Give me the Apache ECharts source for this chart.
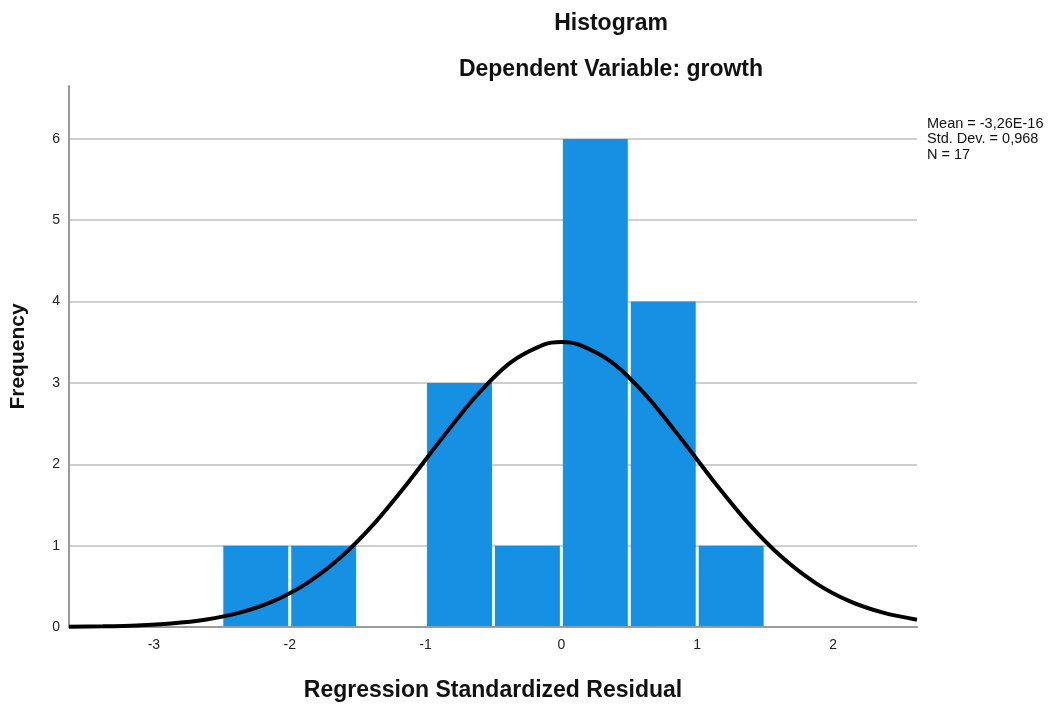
<!DOCTYPE html>
<html>
<head>
<meta charset="utf-8">
<script src="https://cdn.jsdelivr.net/npm/echarts@6/dist/echarts.min.js"></script>
<style>
  html, body { margin: 0; padding: 0; background: #fff; }
  #chart { width: 1055px; height: 707px; }
</style>
</head>
<body>
<div id="chart"></div>
<script>
// histogram bins (width 0.5)
const binStart = [-2.5, -2.0, -1.5, -1.0, -0.5, 0.0, 0.5, 1.0];
const binEnd = [-2.0, -1.5, -1.0, -0.5, 0.0, 0.5, 1.0, 1.5];
const counts = [1, 1, 0, 3, 1, 6, 4, 1];

// normal curve
const curveX = [-3.625, -3.375, -3.125, -2.875, -2.625, -2.375, -2.125, -1.875, -1.625, -1.375, -1.125,
  -0.875, -0.625, -0.375, -0.125, 0, 0.125, 0.375, 0.625, 0.875, 1.125, 1.375, 1.625, 1.875, 2.125,
  2.375, 2.618];
const curveY = [0.003, 0.008, 0.019, 0.043, 0.089, 0.173, 0.315, 0.537, 0.856, 1.277, 1.783,
  2.328, 2.844, 3.25, 3.474, 3.503, 3.474, 3.25, 2.844, 2.328, 1.783, 1.277, 0.856, 0.537, 0.315,
  0.173, 0.09];

const xTicks = [-3, -2, -1, 0, 1, 2];
const statsLines = ["Mean = -3,26E-16", "Std. Dev. = 0,968", "N = 17"];

const chart = echarts.init(document.getElementById("chart"));

const font = "Liberation Sans, Arial, sans-serif";

const option = {
  animation: false,
  title: [
    {
      text: "Histogram",
      left: 606,
      top: 7,
      textAlign: "center",
      textStyle: { fontFamily: font, fontSize: 23, fontWeight: "bold", color: "#111" },
    },
    {
      text: "Dependent Variable: growth",
      left: 606,
      top: 53,
      textAlign: "center",
      textStyle: { fontFamily: font, fontSize: 23, fontWeight: "bold", color: "#111" },
    },
  ],
  graphic: [
    {
      type: "text",
      left: 927,
      top: 116,
      style: {
        text: statsLines.join("\n"),
        fontFamily: font,
        fontSize: 14.5,
        lineHeight: 15.5,
        fill: "#111",
      },
    },
  ],
  grid: {
    left: 68,
    right: 138,
    top: 86,
    bottom: 77,
  },
  xAxis: {
    type: "value",
    min: -3.625,
    max: 2.618,
    z: 5,
    name: "Regression Standardized Residual",
    nameLocation: "middle",
    nameGap: 52,
    nameTextStyle: { fontFamily: font, fontSize: 23, fontWeight: "bold", color: "#111" },
    axisLine: { show: true, onZero: false, lineStyle: { color: "#9a9a9a", width: 2 } },
    axisTick: { show: false },
    splitLine: { show: false },
    axisLabel: {
      customValues: xTicks,
      fontFamily: font,
      fontSize: 14,
      color: "#222",
      margin: 11,
    },
  },
  yAxis: {
    type: "value",
    min: 0,
    max: 6.65,
    interval: 1,
    name: "Frequency",
    nameLocation: "middle",
    nameGap: 40,
    nameRotate: 90,
    nameTextStyle: { fontFamily: font, fontSize: 21, fontWeight: "bold", color: "#111" },
    axisLine: { show: true, onZero: false, lineStyle: { color: "#9a9a9a", width: 2 } },
    axisTick: { show: false },
    splitLine: { show: true, showMaxLine: false, lineStyle: { color: "#cfcfcf", width: 2 } },
    axisLabel: {
      fontFamily: font,
      fontSize: 14,
      color: "#222",
      margin: 9,
      formatter: (v) => (Number.isInteger(v) ? String(v) : ""),
    },
  },
  series: [
    {
      type: "custom",
      data: counts.map((c, i) => [binStart[i], binEnd[i], c]),
      encode: { x: [0, 1], y: 2 },
      renderItem: (params, api) => {
        const p0 = api.coord([api.value(0), api.value(2)]);
        const p1 = api.coord([api.value(1), 0]);
        return {
          type: "rect",
          shape: { x: p0[0] + 1.5, y: p0[1], width: p1[0] - p0[0] - 3, height: p1[1] - p0[1] },
          style: { fill: "#1590e3" },
        };
      },
      z: 2,
    },
    {
      type: "line",
      data: curveX.map((x, i) => [x, curveY[i]]),
      smooth: 0.3,
      symbol: "none",
      lineStyle: { color: "#000", width: 4 },
      z: 10,
    },
  ],
};

chart.setOption(option);
window.addEventListener("resize", () => chart.resize());
</script>
</body>
</html>
